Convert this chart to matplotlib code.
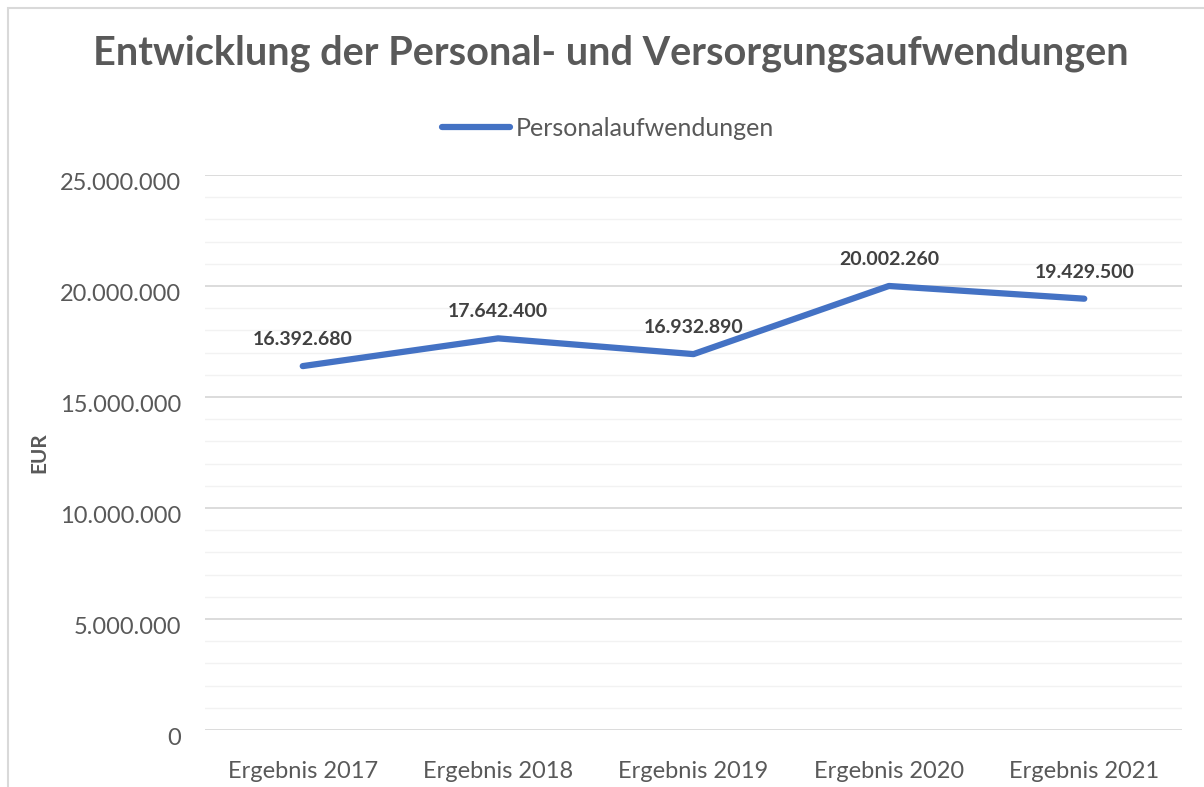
import matplotlib
matplotlib.use("Agg")
import matplotlib.pyplot as plt
from matplotlib.patches import Rectangle
from matplotlib.ticker import MultipleLocator, FuncFormatter
from matplotlib.transforms import ScaledTranslation

plt.rcParams['font.family'] = ['Lato', 'DejaVu Sans']

# data
categories = ["Ergebnis 2017", "Ergebnis 2018", "Ergebnis 2019", "Ergebnis 2020", "Ergebnis 2021"]
personal = [16392680, 17642400, 16932890, 20002260, 19429500]
series_name = "Personalaufwendungen"

def de_fmt(v):
    return f"{int(round(v)):,}".replace(",", ".")

fig = plt.figure(figsize=(12.04, 7.87), dpi=100)
ax = fig.add_axes([0.1703, 0.0724, 0.8114, 0.7052])

# light frame around the chart area (runs off the right/bottom edge)
fig.patches.append(Rectangle((8 / 1204, -0.05), 1.2, 1 - 8 / 787 + 0.05,
                             transform=fig.transFigure, fill=False,
                             edgecolor='#D9D9D9', linewidth=1.5))

x = list(range(len(categories)))
ax.plot(x, personal, color='#4472C4', linewidth=4.5, solid_capstyle='round',
        label=series_name, zorder=3)

for xi, v in zip(x, personal):
    ax.annotate(de_fmt(v), (xi, v), xytext=(0, 19), textcoords='offset points',
                ha='center', va='center', fontsize=14, fontweight='bold',
                color='#404040')

ax.set_xlim(-0.5, len(categories) - 0.5)
ax.set_ylim(0, 25000000)
ax.yaxis.set_major_locator(MultipleLocator(5000000))
ax.yaxis.set_minor_locator(MultipleLocator(1000000))
ax.yaxis.set_major_formatter(FuncFormatter(lambda v, p: de_fmt(v)))
ax.set_xticks(x)
ax.set_xticklabels(categories)

ax.grid(which='major', axis='y', color='#D9D9D9', linewidth=1.3)
ax.grid(which='minor', axis='y', color='#F2F2F2', linewidth=1.0)
ax.set_axisbelow(True)
for s in ax.spines.values():
    s.set_visible(False)
ax.tick_params(axis='both', which='both', length=0, labelsize=17, colors='#595959')
ax.tick_params(axis='y', pad=17)
ax.tick_params(axis='x', pad=22)

# Excel puts the value labels a little below their gridline
shift = ScaledTranslation(0, -0.06, fig.dpi_scale_trans)
for lbl in ax.get_yticklabels():
    lbl.set_transform(lbl.get_transform() + shift)

ax.set_ylabel("EUR", fontsize=15, fontweight='bold', color='#595959', labelpad=8)

fig.text(0.507, 0.932, "Entwicklung der Personal- und Versorgungsaufwendungen",
         ha='center', va='center', fontsize=28.5, fontweight='bold', color='#595959')

ax.legend(loc='center', bbox_to_anchor=(0.505, 0.837), bbox_transform=fig.transFigure,
          frameon=False, fontsize=18, labelcolor='#595959', handlelength=2.7,
          handletextpad=0.25)

fig.savefig("out.png", dpi=100)
